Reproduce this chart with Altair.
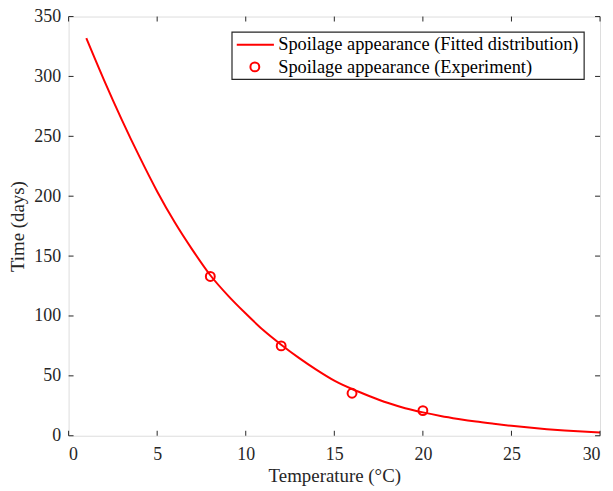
import altair as alt
import pandas as pd

# Fitted curve
fit_temp = [1, 2, 3, 4, 5, 6, 7, 8, 9, 10, 11, 12, 13, 14, 15, 16, 17, 18, 19, 20,
            21, 22, 23, 24, 25, 26, 27, 28, 29, 30]
fit_time = [332, 297, 264, 233, 204, 178, 155, 134, 117, 102, 88, 76, 65, 55, 46, 39,
            33, 27.5, 23, 19.5, 16.5, 14, 11.8, 10, 8.3, 6.8, 5.5, 4.4, 3.5, 2.8]

# Experimental points
exp_temp = [8, 12, 16, 20]
exp_time = [133, 75, 35.5, 21]

x_ticks = [0, 5, 10, 15, 20, 25, 30]
y_ticks = [0, 50, 100, 150, 200, 250, 300, 350]
series_names = ["Spoilage appearance (Fitted distribution)",
                "Spoilage appearance (Experiment)"]

W, H = 535, 422
FONT = "Liberation Serif"
AX = "#262626"
RED = "#ff0000"

fit_df = pd.DataFrame({"temp": fit_temp, "time": fit_time})
exp_df = pd.DataFrame({"temp": exp_temp, "time": exp_time})
xt_df = pd.DataFrame({"temp": x_ticks})
yt_df = pd.DataFrame({"time": y_ticks})
one = pd.DataFrame({"k": [0]})

xs = alt.Scale(domain=[0, 30], nice=False, zero=False)
ys = alt.Scale(domain=[0, 350], nice=False, zero=False)

x_axis = alt.Axis(values=x_ticks, tickSize=0, domain=False, grid=False,
                  labelFont=FONT, labelFontSize=18, labelColor=AX, labelPadding=10,
                  title="Temperature (°C)", titleFont=FONT, titleFontSize=19,
                  titleFontWeight="normal", titleColor=AX, titlePadding=3)
y_axis = alt.Axis(values=y_ticks, tickSize=0, domain=False, grid=False,
                  labelFont=FONT, labelFontSize=18, labelColor=AX, labelPadding=8,
                  title="Time (days)", titleFont=FONT, titleFontSize=19,
                  titleFontWeight="normal", titleColor=AX, titlePadding=6)

X = alt.X("temp:Q", scale=xs, axis=x_axis, title="Temperature (°C)")
Y = alt.Y("time:Q", scale=ys, axis=y_axis, title="Time (days)")

line = alt.Chart(fit_df).mark_line(color=RED, strokeWidth=2, interpolate="monotone").encode(
    x=X, y=Y)

points = alt.Chart(exp_df).mark_point(shape="circle", filled=False, color=RED,
                                      size=80, strokeWidth=2, opacity=1).encode(x=X, y=Y)

TL = 5
tick_b = alt.Chart(xt_df).mark_rule(color=AX, strokeWidth=1).encode(
    x=X, y=alt.value(H), y2=alt.value(H - TL))
tick_t = alt.Chart(xt_df).mark_rule(color=AX, strokeWidth=1).encode(
    x=X, y=alt.value(0), y2=alt.value(TL))
tick_l = alt.Chart(yt_df).mark_rule(color=AX, strokeWidth=1).encode(
    y=Y, x=alt.value(0), x2=alt.value(TL))
tick_r = alt.Chart(yt_df).mark_rule(color=AX, strokeWidth=1).encode(
    y=Y, x=alt.value(W), x2=alt.value(W - TL))

# Legend (box, symbols, labels)
leg_box = alt.Chart(one).mark_rect(fill="white", stroke=AX, strokeWidth=1.2).encode(
    x=alt.value(164.5), x2=alt.value(519), y=alt.value(15.7), y2=alt.value(63.3))
leg_line = alt.Chart(one).mark_rule(color=RED, strokeWidth=2).encode(
    x=alt.value(169.3), x2=alt.value(206.7), y=alt.value(28.3))
leg_pt = alt.Chart(one).mark_point(shape="circle", filled=False, color=RED,
                                   size=80, strokeWidth=2, opacity=1).encode(
    x=alt.value(187.5), y=alt.value(50.7))
leg_t1 = alt.Chart(one).mark_text(align="left", baseline="alphabetic", font=FONT,
                                  fontSize=18.5, color="#000000").encode(
    x=alt.value(211), y=alt.value(34), text=alt.value(series_names[0]))
leg_t2 = alt.Chart(one).mark_text(align="left", baseline="alphabetic", font=FONT,
                                  fontSize=18.5, color="#000000").encode(
    x=alt.value(211), y=alt.value(56.7), text=alt.value(series_names[1]))

chart = alt.layer(
    line, points, tick_b, tick_t, tick_l, tick_r,
    leg_box, leg_line, leg_pt, leg_t1, leg_t2,
).properties(
    width=W, height=H,
    autosize=alt.AutoSizeParams(type="none"),
    padding={"left": 61, "top": 7, "right": 5, "bottom": 50},
).configure_view(stroke=AX, strokeWidth=1.2).configure(background="white")

chart.save("out.html", embed_options={"renderer": "svg", "actions": False})
